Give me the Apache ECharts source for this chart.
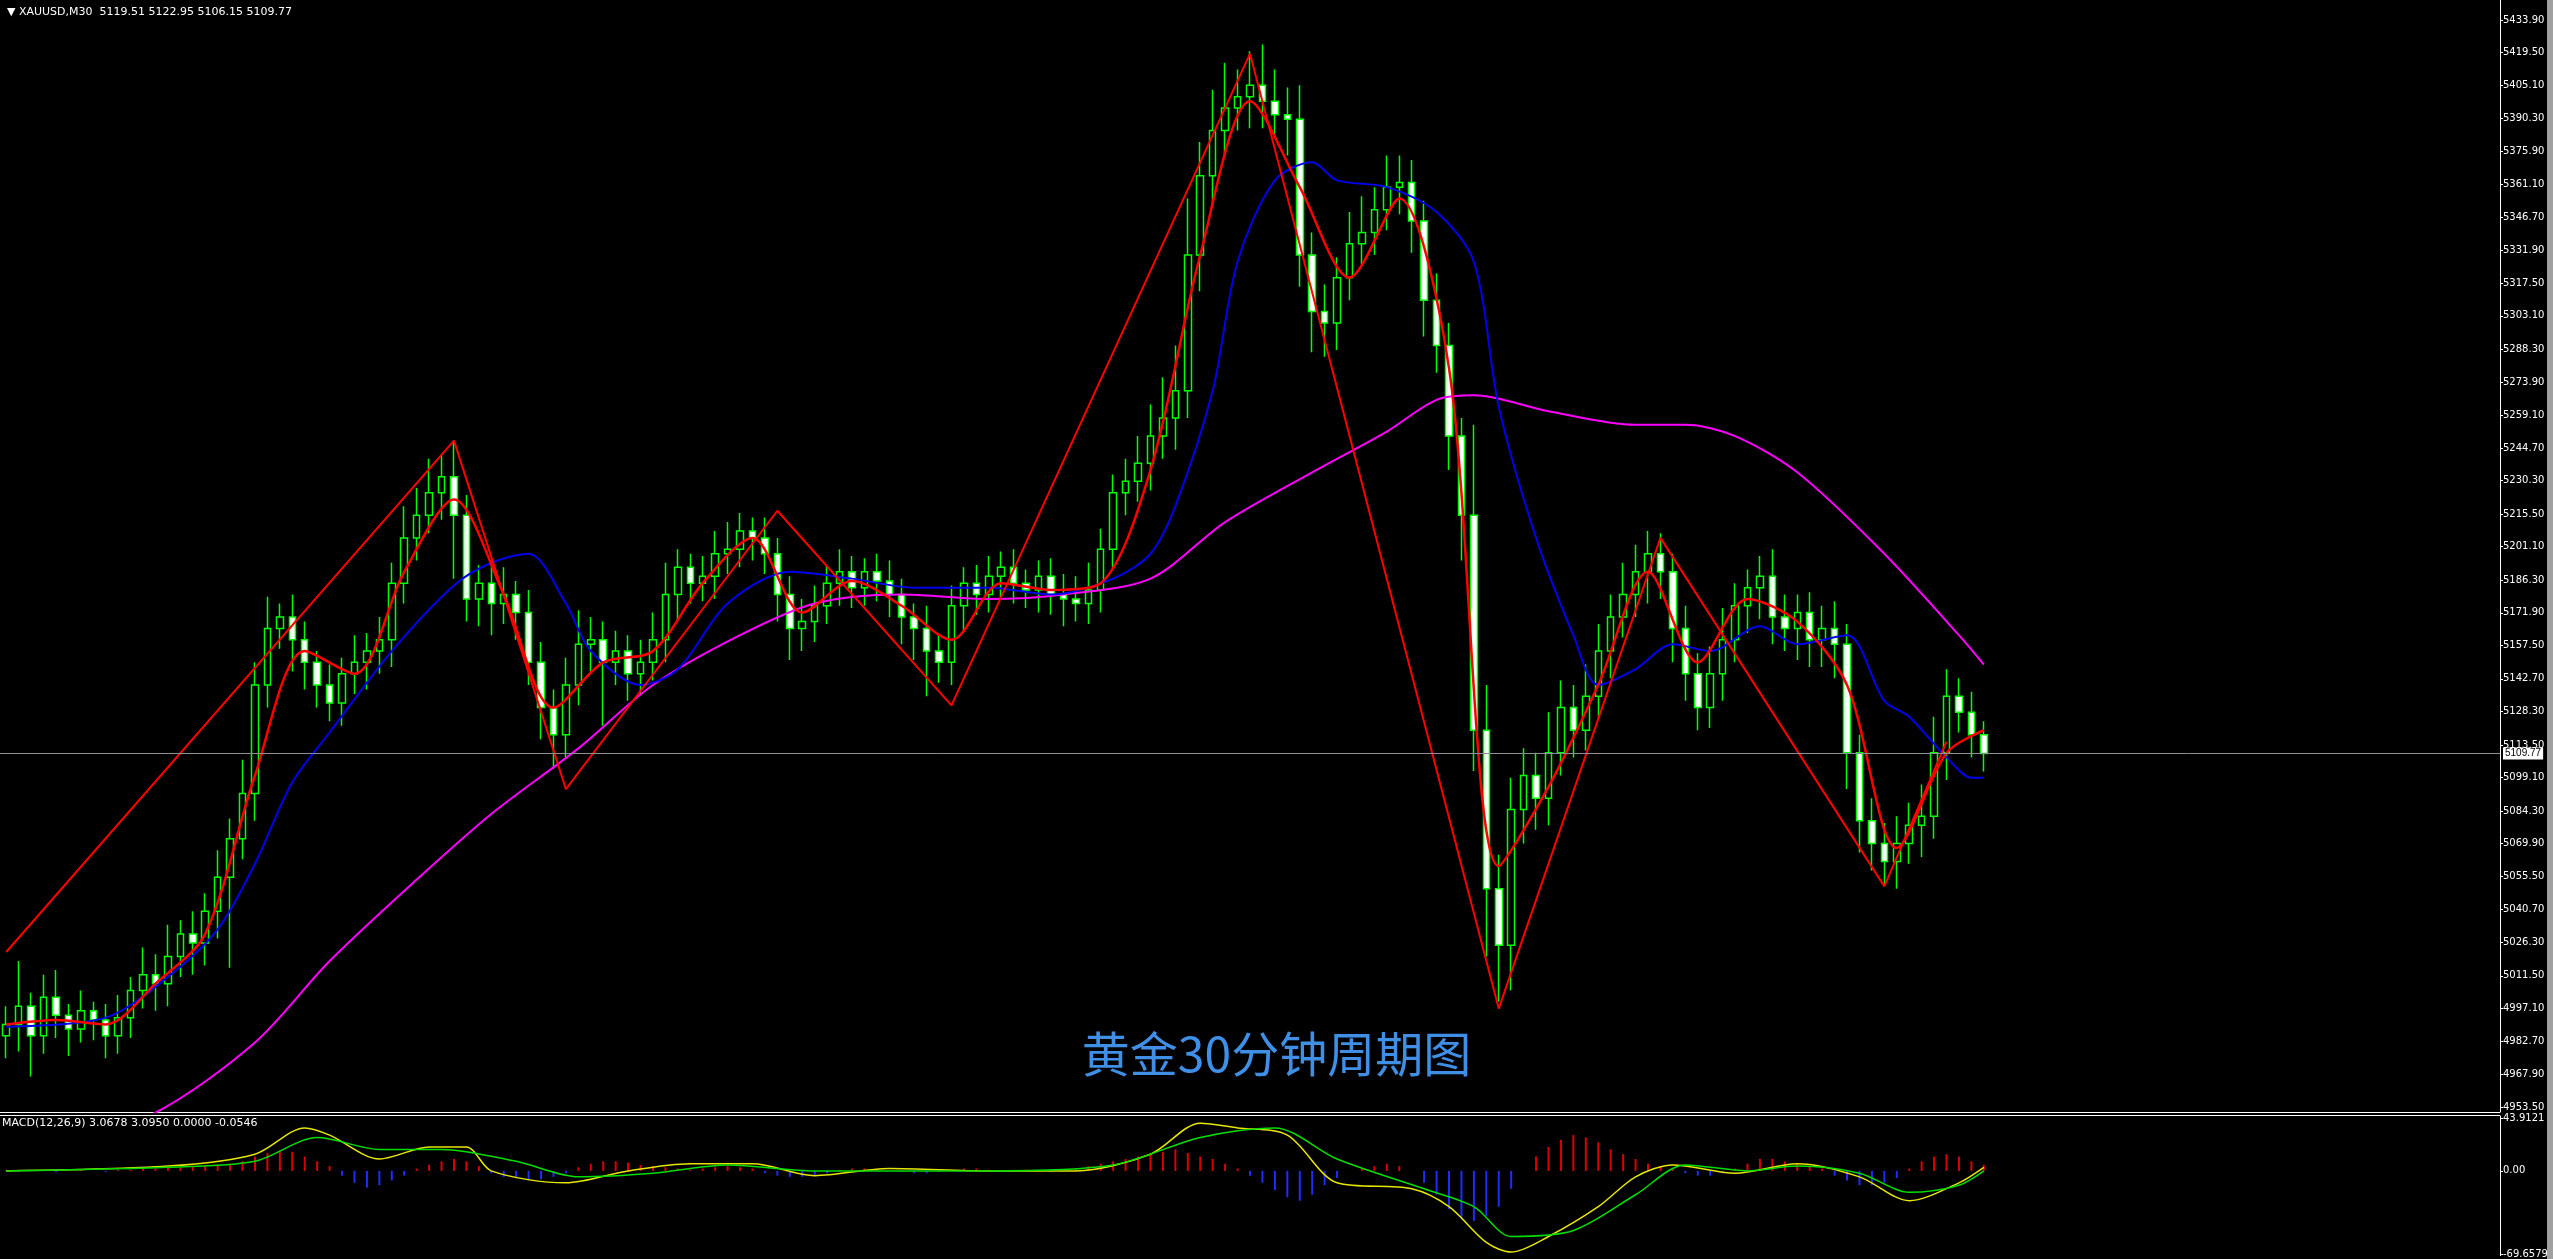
<!DOCTYPE html>
<html>
<head>
<meta charset="utf-8">
<script src="https://cdn.jsdelivr.net/npm/echarts@6/dist/echarts.min.js"></script>
<style>html,body{margin:0;padding:0;background:#000;}#chart{width:2553px;height:1259px;}</style>
</head>
<body>
<div id="chart"></div>
<script>
// XAUUSD M30 closes (one entry per drawn bar)
var closes = [
  4990, 4998, 4985, 5002, 4994, 4988, 4996, 4992, 4985, 4993,
  5005, 5012, 5008, 5020, 5030, 5026,
  5040, 5055, 5072, 5092,
  5140, 5165, 5170,
  5160, 5150, 5140, 5132,
  5145, 5150, 5155, 5160,
  5185, 5205, 5215, 5225, 5232,
  5215, 5178,
  5185, 5176, 5180, 5172,
  5150, 5130, 5118,
  5140, 5158, 5160, 5150, 5155,
  5145, 5150, 5160,
  5180, 5192, 5185, 5188, 5198,
  5200, 5208, 5205, 5198,
  5180, 5165, 5168, 5175,
  5185, 5190, 5183, 5190, 5186, 5180,
  5170, 5165, 5155, 5150,
  5175, 5185, 5180, 5188, 5192, 5185,
  5182, 5188, 5180, 5178, 5176, 5182,
  5200, 5225, 5230, 5238,
  5250, 5258, 5270,
  5330, 5365, 5385,
  5395, 5400, 5405,
  5398, 5392, 5390,
  5330, 5305, 5300,
  5320, 5335, 5340,
  5350, 5360, 5362,
  5345, 5310, 5290,
  5250, 5215,
  5120, 5050, 5025,
  5085, 5100, 5090,
  5110, 5130, 5120, 5135,
  5155, 5170, 5180, 5190, 5198,
  5190, 5165, 5145, 5130,
  5145, 5160, 5175, 5183, 5188,
  5170, 5165, 5172, 5160, 5165, 5158,
  5110, 5080, 5070,
  5062, 5070, 5078, 5082,
  5110, 5135,
  5128, 5118, 5109.77
];
var firstOpen = 4985;
var upperWick = [
  8, 20, 6, 10, 12, 5, 9, 4, 7, 10,
  6, 12, 9, 14, 6, 10, 8, 12, 9, 15,
  10, 14, 6, 10, 8, 5, 9, 7, 12, 8,
  10, 9, 14, 12, 15, 10, 16, 9, 8, 10,
  12, 6, 10, 9, 8, 12, 15, 10, 8, 9,
  7, 10, 12, 14, 8, 6, 9, 10, 12, 8,
  6, 9, 7, 8, 10, 9, 8, 10, 7, 6,
  8, 9, 7, 6, 10, 8, 9, 7, 8, 9,
  7, 8, 6, 7, 8, 9, 10, 12, 9, 8,
  10, 12, 14, 18, 20, 25, 15, 18, 20, 12,
  15, 18, 14, 12, 15, 10, 12, 9, 14, 16,
  10, 14, 12, 10, 9, 12, 10, 8, 40, 20,
  15, 14, 12, 10, 18, 12, 10, 14, 12, 10,
  14, 12, 10, 9, 8, 10, 9, 12, 14, 10,
  8, 9, 12, 10, 8, 9, 10, 12, 9, 8,
  10, 9, 12, 10, 14, 16, 12, 8, 9, 6
];
var lowerWick = [
  10, 12, 18, 8, 10, 12, 6, 9, 10, 8,
  9, 8, 12, 10, 9, 14, 10, 12, 40, 9,
  12, 10, 9, 14, 12, 10, 8, 10, 9, 12,
  10, 12, 9, 10, 8, 12, 28, 10, 12, 14,
  9, 12, 10, 14, 15, 10, 9, 12, 28, 10,
  12, 9, 8, 10, 12, 9, 8, 10, 9, 8,
  10, 9, 12, 14, 10, 9, 8, 10, 9, 8,
  9, 10, 12, 14, 20, 9, 10, 12, 9, 8,
  10, 9, 8, 10, 9, 12, 8, 9, 10, 8,
  10, 9, 12, 10, 14, 12, 16, 14, 12, 10,
  14, 12, 10, 16, 14, 18, 15, 12, 10, 9,
  10, 9, 12, 14, 16, 12, 15, 20, 18, 30,
  25, 20, 15, 14, 12, 10, 12, 9, 10, 12,
  9, 10, 14, 12, 15, 12, 10, 9, 12, 10,
  12, 14, 12, 10, 14, 12, 12, 15, 16, 14,
  12, 10, 12, 9, 14, 10, 12, 9, 10, 8
];
var emptyBars = 41;

// fast red average, sampled [bar, price]
var redMA = [[0,4990],[4,4992],[8,4990],[12,5008],[16,5030],[20,5100],[24,5155],[28,5145],[32,5190],[36,5222],[40,5180],[44,5130],[48,5150],[52,5155],[56,5185],[60,5205],[64,5172],[68,5186],[72,5175],[76,5160],[80,5185],[84,5182],[88,5185],[92,5235],[96,5330],[100,5398],[104,5360],[108,5320],[112,5355],[116,5280],[120,5060],[124,5095],[128,5140],[132,5190],[136,5150],[140,5178],[144,5168],[148,5140],[152,5068],[156,5110],[159,5120]];
// blue average
var blueMA = [[0,4989],[8,4993],[13,5011],[17,5032],[20,5061],[23,5097],[26,5119],[31,5155],[36,5184],[39,5194],[42,5198],[45,5176],[47,5155],[51,5140],[54,5147],[58,5176],[63,5190],[68,5187],[73,5183],[79,5183],[84,5180],[89,5187],[92,5198],[94,5219],[97,5270],[99,5327],[102,5363],[105,5371],[107,5363],[111,5360],[115,5349],[118,5327],[120,5263],[123,5205],[126,5162],[128,5140],[131,5147],[134,5158],[137,5155],[141,5166],[144,5158],[148,5162],[151,5133],[153,5126],[156,5108],[158,5099],[159,5099]];
// magenta slow average
var pinkMA = [[0,4925],[12,4951],[20,4982],[26,5018],[33,5054],[39,5083],[46,5112],[52,5140],[59,5162],[65,5176],[72,5180],[79,5178],[85,5180],[92,5187],[98,5212],[105,5234],[111,5252],[115,5266],[118,5268],[124,5261],[131,5255],[135,5255],[139,5250],[144,5234],[151,5198],[157,5162],[159,5149]];
// zigzag pivots
var zigzag = [[0,5022],[36,5248],[45,5094],[62,5217],[76,5131],[100,5419],[120,4997],[133,5205],[151,5051],[156,5115]];

// MACD(12,26,9)
var macdHist = [
  1,-1,0,1,-1,0,1,0,-1,1,
  1,2,2,3,3,4,4,5,6,8,
  12,15,17,16,12,8,4,-4,-10,-14,
  -12,-8,-4,2,5,8,10,8,4,-2,
  -5,-6,-8,-7,-5,-2,3,6,8,8,
  7,5,4,3,2,1,2,3,4,3,
  2,-2,-4,-5,-5,-4,-2,1,2,2,
  1,0,-1,-2,-2,-1,1,2,2,1,
  0,1,1,0,-1,0,2,4,6,8,
  10,12,14,16,18,15,12,10,6,2,
  -4,-10,-16,-22,-25,-20,-12,-6,0,2,
  4,6,4,0,-10,-20,-32,-40,-42,-38,
  -30,-15,0,12,20,26,30,28,24,18,
  14,10,6,4,2,-2,-4,-4,-2,2,
  6,10,10,8,6,4,2,-4,-8,-12,
  -12,-10,-6,2,8,12,14,12,8,5
];
var macdMain = [[0,0],[13,4],[20,14],[24,36],[26,30],[30,10],[34,20],[37,20],[39,0],[45,-10],[50,0],[55,6],[60,6],[65,-4],[71,2],[79,0],[86,0],[92,14],[96,40],[99,36],[103,30],[107,-10],[113,-15],[116,-30],[119,-60],[121,-68],[124,-55],[128,-30],[131,-5],[134,5],[139,-2],[144,6],[149,-5],[153,-25],[157,-10],[159,3]];
var macdSignal = [[0,0],[13,3],[20,8],[25,28],[30,18],[35,18],[41,8],[46,-5],[52,-2],[58,5],[65,0],[79,0],[89,5],[96,28],[102,36],[107,10],[114,-15],[118,-30],[121,-55],[126,-50],[131,-20],[135,5],[140,0],[144,4],[149,-2],[153,-18],[157,-12],[159,0]];

var priceTicks = [5433.90,5419.50,5405.10,5390.30,5375.90,5361.10,5346.70,5331.90,5317.50,5303.10,5288.30,5273.90,5259.10,5244.70,5230.30,5215.50,5201.10,5186.30,5171.90,5157.50,5142.70,5128.30,5113.50,5099.10,5084.30,5069.90,5055.50,5040.70,5026.30,5011.50,4997.10,4982.70,4967.90,4953.50];
var macdTicks = [43.9121, 0, -69.6579];
var lastPrice = 5109.77;

var total = closes.length + emptyBars;
var cats = [];
for (var i = 0; i < total; i++) cats.push(i);

var candles = [];
for (var i = 0; i < closes.length; i++) {
  var o = i === 0 ? firstOpen : closes[i - 1];
  var c = closes[i];
  candles.push([o, c, Math.min(o, c) - lowerWick[i], Math.max(o, c) + upperWick[i]]);
}

function sparse(pairs) {
  var arr = [];
  for (var i = 0; i < total; i++) arr.push(null);
  pairs.forEach(function (p) { arr[p[0]] = p[1]; });
  return arr;
}

function lineSeries(pairs, color, width, x, y) {
  return {
    type: 'line', data: sparse(pairs), connectNulls: true, showSymbol: false, smooth: 0.3,
    xAxisIndex: x, yAxisIndex: y, silent: true, z: 3,
    lineStyle: { color: color, width: width }
  };
}

var chart = echarts.init(document.getElementById('chart'));
var zz = lineSeries(zigzag, '#ff0000', 2, 0, 0);
zz.smooth = false;
chart.setOption({
  backgroundColor: '#000',
  animation: false,
  title: {
    text: '▼ XAUUSD,M30  5119.51 5122.95 5106.15 5109.77',
    left: 2, top: 2,
    textStyle: { color: '#fff', fontSize: 11, fontWeight: 'normal', fontFamily: 'DejaVu Sans' }
  },
  graphic: [
    { type: 'text', left: 2, top: 1118, style: { text: 'MACD(12,26,9) 3.0678 3.0950 0.0000 -0.0546', fill: '#fff', font: '11px DejaVu Sans' } },
    { type: 'text', left: 'center', top: 1030, style: { text: '黄金30分钟周期图', fill: '#3f8fe6', font: '48px "Noto Sans CJK SC"' }, z: 10 },
    { type: 'rect', left: 0, top: 1112, shape: { width: 2500, height: 1 }, style: { fill: '#fff' } },
    { type: 'rect', left: 0, top: 1115, shape: { width: 2500, height: 1 }, style: { fill: '#fff' } },
    { type: 'rect', left: 2547, top: 0, shape: { width: 6, height: 1259 }, style: { fill: '#a0a0a0' } }
  ],
  grid: [
    { left: 0, right: 53, top: 0, height: 1112 },
    { left: 0, right: 53, top: 1116, height: 140 }
  ],
  xAxis: [
    { type: 'category', data: cats, gridIndex: 0, show: false, boundaryGap: true },
    { type: 'category', data: cats, gridIndex: 1, show: false, boundaryGap: true }
  ],
  yAxis: [
    {
      type: 'value', gridIndex: 0, position: 'right', min: 4951.3, max: 5442.7, scale: true,
      splitLine: { show: false },
      axisLine: { show: true, lineStyle: { color: '#fff' } },
      axisTick: { show: true, length: 3, lineStyle: { color: '#fff' }, customValues: priceTicks },
      axisLabel: { color: '#fff', fontSize: 10, fontFamily: 'DejaVu Sans', margin: 3, customValues: priceTicks,
        formatter: function (v) { return v.toFixed(2); } }
    },
    {
      type: 'value', gridIndex: 1, position: 'right', min: -71, max: 46,
      splitLine: { show: false },
      axisLine: { show: true, lineStyle: { color: '#fff' } },
      axisTick: { show: true, length: 3, lineStyle: { color: '#fff' }, customValues: macdTicks },
      axisLabel: { color: '#fff', fontSize: 10, fontFamily: 'DejaVu Sans', margin: 3, customValues: macdTicks,
        formatter: function (v) { return v === 0 ? '0.00' : String(v); } }
    }
  ],
  series: [
    {
      type: 'candlestick', data: candles, xAxisIndex: 0, yAxisIndex: 0, barWidth: 7, z: 2,
      itemStyle: { color: '#000', color0: '#fff', borderColor: '#00ff00', borderColor0: '#00ff00', borderWidth: 1.5 },
      markLine: {
        silent: true, symbol: 'none',
        lineStyle: { color: '#8a8f98', type: 'solid', width: 1 },
        label: { position: 'end', color: '#000', backgroundColor: '#fff', fontSize: 10, padding: [1, 2], distance: 3,
          formatter: function () { return lastPrice.toFixed(2); } },
        data: [{ yAxis: lastPrice }]
      }
    },
    lineSeries(pinkMA, '#ff00ff', 2, 0, 0),
    lineSeries(blueMA, '#0000ee', 2, 0, 0),
    lineSeries(redMA, '#ff0000', 2.5, 0, 0),
    zz,
    {
      type: 'bar', xAxisIndex: 1, yAxisIndex: 1, barWidth: 2,
      data: macdHist.map(function (v) {
        return { value: v, itemStyle: { color: v >= 0 ? '#dd0000' : '#1e2dff' } };
      })
    },
    lineSeries(macdMain, '#e6e600', 1.5, 1, 1),
    lineSeries(macdSignal, '#00dd00', 1.5, 1, 1)
  ]
});
</script>
</body>
</html>
